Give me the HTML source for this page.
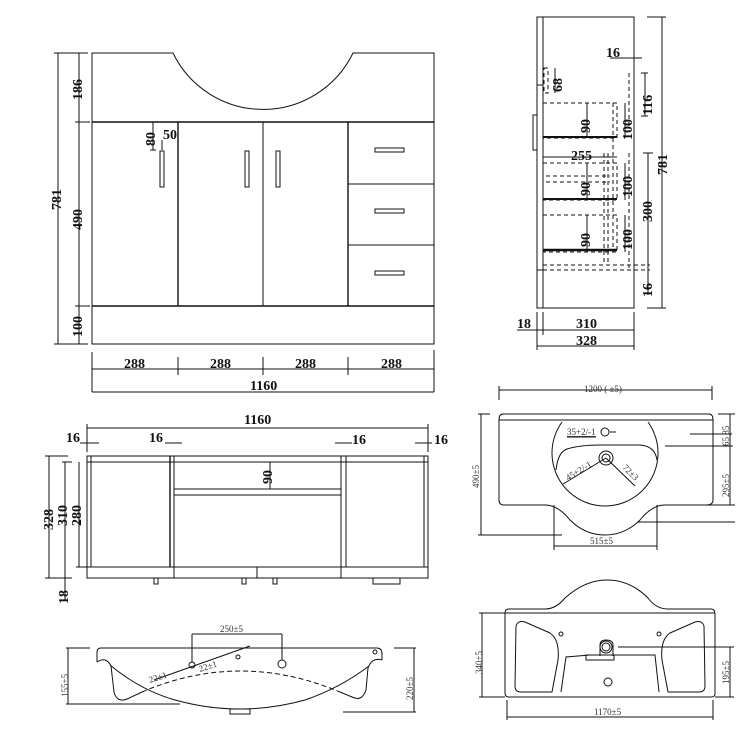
<!DOCTYPE html>
<html><head><meta charset="utf-8"><style>
html,body{margin:0;padding:0;background:#fff;}
svg{display:block;}
text{font-family:"Liberation Serif",serif;fill:#111;}
.b{font-weight:bold;font-size:14px;}
.s{font-size:9px;fill:#333;}
</style></head><body>
<svg width="750" height="750" viewBox="0 0 750 750" xmlns="http://www.w3.org/2000/svg" fill="none" stroke="#111">
<!-- FRONT VIEW -->
<g stroke-width="1">
<path d="M92 53 H173 A100 100 0 0 0 353 53 H434 V344 H92 Z"/>
<line x1="92" y1="122" x2="434" y2="122" stroke-width="1.6"/>
<line x1="92" y1="306" x2="434" y2="306" stroke-width="1.6"/>
<line x1="178" y1="122" x2="178" y2="306" stroke-width="1.4"/>
<line x1="263" y1="122" x2="263" y2="306"/>
<line x1="348" y1="122" x2="348" y2="306" stroke-width="1.4"/>
<line x1="348" y1="184" x2="434" y2="184"/>
<line x1="348" y1="245" x2="434" y2="245"/>
<rect x="160" y="151" width="4" height="36"/>
<rect x="245" y="151" width="4" height="36"/>
<rect x="276" y="151" width="4" height="36"/>
<rect x="375" y="148" width="29" height="4"/>
<rect x="375" y="209" width="29" height="4"/>
<rect x="375" y="271" width="29" height="4"/>
<line x1="58" y1="53" x2="58" y2="344"/><line x1="54" y1="53" x2="88" y2="53"/><line x1="54" y1="344" x2="88" y2="344"/>
<line x1="79" y1="53" x2="79" y2="344"/><line x1="75" y1="122" x2="90" y2="122"/><line x1="75" y1="306" x2="90" y2="306"/>
<line x1="153" y1="122" x2="153" y2="150"/><line x1="150" y1="150" x2="156" y2="150"/>
<line x1="162" y1="140" x2="162" y2="150"/>
<line x1="92" y1="352" x2="92" y2="392"/><line x1="434" y1="350" x2="434" y2="392"/>
<line x1="92" y1="369" x2="434" y2="369"/>
<line x1="178" y1="357" x2="178" y2="375"/><line x1="263" y1="357" x2="263" y2="375"/><line x1="348" y1="357" x2="348" y2="375"/>
<line x1="92" y1="392" x2="434" y2="392"/>
</g>
<g stroke="none">
<text x="124" y="368" class="b">288</text><text x="210" y="368" class="b">288</text><text x="295" y="368" class="b">288</text><text x="381" y="368" class="b">288</text>
<text x="250" y="390" class="b">1160</text>
<text class="b" transform="translate(82,100) rotate(-90)">186</text>
<text class="b" transform="translate(82,230) rotate(-90)">490</text>
<text class="b" transform="translate(82,337) rotate(-90)">100</text>
<text class="b" transform="translate(61,210) rotate(-90)">781</text>
<text class="b" transform="translate(155,146) rotate(-90)">80</text>
<text x="163" y="139" class="b">50</text>
</g>

<!-- SIDE VIEW -->
<g stroke-width="1">
<rect x="537" y="17" width="97" height="291"/>
<line x1="543" y1="17" x2="543" y2="308"/>
<rect x="533" y="115" width="4" height="35"/>
<line x1="537" y1="85" x2="543" y2="85"/><line x1="537" y1="270" x2="543" y2="270"/>
<g stroke-dasharray="4,3">
<rect x="544" y="68" width="4" height="25"/>
<rect x="543" y="103" width="74" height="35"/>
<rect x="543" y="163" width="74" height="37"/>
<rect x="543" y="215" width="74" height="37"/>
<line x1="546" y1="176" x2="610" y2="176"/><line x1="546" y1="182" x2="610" y2="182"/>
<line x1="604" y1="153" x2="604" y2="265"/><line x1="608" y1="153" x2="608" y2="265"/>
<line x1="613" y1="103" x2="613" y2="252"/>
<line x1="629" y1="73" x2="629" y2="128"/><line x1="629" y1="153" x2="629" y2="268"/>
<line x1="543" y1="265" x2="650" y2="265"/><line x1="543" y1="270" x2="650" y2="270"/>
</g>
<line x1="543" y1="137" x2="617" y2="137" stroke-width="2"/>
<line x1="543" y1="199" x2="617" y2="199" stroke-width="2"/>
<line x1="543" y1="250" x2="617" y2="250" stroke-width="2.5"/>
<line x1="587" y1="103" x2="587" y2="138"/><line x1="587" y1="163" x2="587" y2="200"/><line x1="587" y1="215" x2="587" y2="252"/>
<line x1="625" y1="103" x2="625" y2="138"/><line x1="625" y1="163" x2="625" y2="200"/><line x1="625" y1="215" x2="625" y2="252"/>
<line x1="543" y1="157" x2="617" y2="157"/>
<line x1="555" y1="68" x2="555" y2="93"/>
<line x1="645" y1="73" x2="645" y2="116"/><line x1="641" y1="73" x2="648" y2="73"/><line x1="641" y1="116" x2="648" y2="116"/>
<line x1="648" y1="153" x2="648" y2="295"/><line x1="643" y1="153" x2="653" y2="153"/>
<line x1="610" y1="58" x2="642" y2="58"/>
<line x1="662" y1="17" x2="662" y2="308"/><line x1="647" y1="17" x2="666" y2="17"/><line x1="647" y1="308" x2="666" y2="308"/>
<line x1="537" y1="312" x2="537" y2="350"/><line x1="543" y1="312" x2="543" y2="335"/><line x1="634" y1="312" x2="634" y2="350"/>
<line x1="517" y1="330" x2="634" y2="330"/><line x1="537" y1="346" x2="634" y2="346"/>
</g>
<g stroke="none">
<text x="606" y="57" class="b">16</text>
<text class="b" transform="translate(562,92) rotate(-90)">68</text>
<text class="b" transform="translate(590,133) rotate(-90)">90</text>
<text class="b" transform="translate(590,196) rotate(-90)">90</text>
<text class="b" transform="translate(590,247) rotate(-90)">90</text>
<text class="b" transform="translate(632,140) rotate(-90)">100</text>
<text class="b" transform="translate(632,197) rotate(-90)">100</text>
<text class="b" transform="translate(632,250) rotate(-90)">100</text>
<text class="b" transform="translate(652,115) rotate(-90)">116</text>
<text class="b" transform="translate(652,222) rotate(-90)">300</text>
<text class="b" transform="translate(652,297) rotate(-90)">16</text>
<text class="b" transform="translate(667,175) rotate(-90)">781</text>
<text x="571" y="160" class="b">255</text>
<text x="517" y="328" class="b">18</text>
<text x="576" y="328" class="b">310</text>
<text x="576" y="345" class="b">328</text>
</g>

<!-- PLAN VIEW -->
<g stroke-width="1">
<rect x="87" y="456" width="341" height="122"/>
<line x1="91" y1="456" x2="91" y2="567"/><line x1="424" y1="456" x2="424" y2="567"/>
<line x1="87" y1="462" x2="428" y2="462"/>
<line x1="87" y1="567" x2="428" y2="567"/>
<line x1="170" y1="456" x2="170" y2="567" stroke-width="1.4"/><line x1="174" y1="456" x2="174" y2="578"/>
<line x1="341" y1="456" x2="341" y2="578"/><line x1="346" y1="456" x2="346" y2="567"/>
<line x1="257" y1="567" x2="257" y2="578"/>
<line x1="174" y1="489" x2="341" y2="489"/><line x1="174" y1="495" x2="341" y2="495"/>
<line x1="270" y1="462" x2="270" y2="489"/>
<rect x="154" y="578" width="4" height="6"/><rect x="242" y="578" width="4" height="6"/><rect x="273" y="578" width="4" height="6"/>
<rect x="373" y="578" width="27" height="6"/>
<line x1="87" y1="428" x2="428" y2="428"/><line x1="87" y1="424" x2="87" y2="452"/><line x1="428" y1="424" x2="428" y2="452"/>
<line x1="80" y1="443" x2="99" y2="443"/><line x1="165" y1="443" x2="182" y2="443"/><line x1="335" y1="443" x2="352" y2="443"/><line x1="415" y1="443" x2="432" y2="443"/>
<line x1="49" y1="456" x2="49" y2="578"/><line x1="45" y1="456" x2="68" y2="456"/><line x1="45" y1="578" x2="72" y2="578"/>
<line x1="65" y1="462" x2="65" y2="578"/><line x1="62" y1="462" x2="72" y2="462"/>
<line x1="79" y1="462" x2="79" y2="567"/><line x1="76" y1="567" x2="90" y2="567"/>
<line x1="65" y1="562" x2="65" y2="600"/>
</g>
<g stroke="none">
<text x="244" y="424" class="b">1160</text>
<text x="66" y="442" class="b">16</text><text x="149" y="442" class="b">16</text><text x="352" y="444" class="b">16</text><text x="434" y="444" class="b">16</text>
<text class="b" transform="translate(272,484) rotate(-90)">90</text>
<text class="b" transform="translate(53,530) rotate(-90)">328</text>
<text class="b" transform="translate(67,526) rotate(-90)">310</text>
<text class="b" transform="translate(81,526) rotate(-90)">280</text>
<text class="b" transform="translate(68,604) rotate(-90)">18</text>
</g>

<!-- BASIN SIDE -->
<g stroke-width="1">
<path d="M97 662 V652 Q97 648 101 648 H377 Q382 648 382 654 V660"/>
<path d="M97 662 Q106 656 111 666 L114 692 Q117 703 127 699 L142 692"/>
<path d="M142 692 Q240 650 340 692" stroke-dasharray="5,3"/>
<path d="M382 660 Q372 657 368 668 L366 690 Q362 702 352 697 L340 692"/>
<path d="M110 665 Q140 690 175 700 Q240 718 305 700 Q340 688 369 666"/>
<rect x="230" y="709" width="20" height="5"/>
<line x1="154" y1="680" x2="250" y2="646"/>
<circle cx="192" cy="665" r="3"/><circle cx="238" cy="657" r="2"/><circle cx="282" cy="664" r="4"/><circle cx="375" cy="652" r="2"/>
<line x1="192" y1="662" x2="192" y2="634"/><line x1="192" y1="634" x2="282" y2="634"/><line x1="282" y1="634" x2="282" y2="660"/>
<line x1="66" y1="648" x2="90" y2="648"/><line x1="66" y1="704" x2="180" y2="704"/>
<line x1="394" y1="648" x2="416" y2="648"/><line x1="343" y1="712" x2="416" y2="712"/>
<line x1="68" y1="648" x2="68" y2="704"/><line x1="414" y1="648" x2="414" y2="712"/>
</g>
<g stroke="none">
<text x="220" y="632" class="s" font-size="11">250±5</text>
<text x="150" y="683" class="s" font-size="11" transform="rotate(-18 150 683)">22±1</text>
<text x="200" y="672" class="s" font-size="11" transform="rotate(-18 200 672)">22±1</text>
<text class="s" font-size="11" transform="translate(68,697) rotate(-90)">155±5</text>
<text class="s" font-size="11" transform="translate(413,700) rotate(-90)">220±5</text>
</g>

<!-- BASIN TOP -->
<g stroke-width="1">
<line x1="499" y1="390" x2="712" y2="390"/><line x1="499" y1="386" x2="499" y2="400"/><line x1="712" y1="386" x2="712" y2="400"/>
<path d="M503 414 H709 Q713 414 713 420 V500 Q713 505 706 505 H665 Q652 505 640 520 Q625 535 605 535 Q585 535 570 520 Q558 505 545 505 H504 Q499 505 499 500 V420 Q499 414 503 414 Z"/>
<line x1="499" y1="420" x2="713" y2="420"/>
<path d="M562 422 A53 53 0 1 0 648 422"/>
<path d="M567 449 Q580 445 600 445 H640 Q655 446 657 460 M556 470 Q558 452 567 449"/>
<circle cx="605" cy="432" r="4"/>
<circle cx="606" cy="458" r="7"/><circle cx="606" cy="458" r="4"/>
<line x1="563" y1="484" x2="606" y2="458"/><line x1="606" y1="458" x2="635" y2="486"/>
<line x1="567" y1="437" x2="596" y2="437"/><line x1="610" y1="432" x2="616" y2="432"/>
<line x1="690" y1="434" x2="732" y2="434"/><line x1="665" y1="446" x2="733" y2="446"/>
<line x1="730" y1="414" x2="730" y2="505"/><line x1="718" y1="414" x2="735" y2="414"/><line x1="665" y1="505" x2="735" y2="505"/>
<line x1="481" y1="414" x2="481" y2="535"/><line x1="478" y1="414" x2="490" y2="414"/><line x1="478" y1="535" x2="562" y2="535"/>
<line x1="554" y1="505" x2="554" y2="550"/><line x1="657" y1="505" x2="657" y2="550"/><line x1="554" y1="546" x2="657" y2="546"/>
<line x1="638" y1="522" x2="735" y2="522"/>
</g>
<g stroke="none">
<text x="584" y="392" class="s">1200 ( ±5)</text>
<text x="567" y="435" class="s" text-decoration="underline">35+2/-1</text>
<text class="s" transform="translate(568,481) rotate(-32)">45+2/-1</text>
<text class="s" transform="translate(622,468) rotate(45)">72±3</text>
<text x="590" y="544" class="s">515±5</text>
<text class="s" transform="translate(479,488) rotate(-90)">490±5</text>
<text class="s" transform="translate(729,497) rotate(-90)">295±5</text>
<text class="s" transform="translate(729,446) rotate(-90)">65 85</text>
</g>

<!-- BASIN BOTTOM -->
<g stroke-width="1">
<path d="M509 609 H545 Q556 609 565 598 Q585 580 607 580 Q630 580 648 598 Q656 609 668 609 H711 Q715 609 715 614 V694 Q715 697 711 697 H509 Q505 697 505 693 V613 Q505 609 509 609 Z"/>
<line x1="505" y1="613" x2="715" y2="613"/>
<path d="M516 626 Q518 620 525 622 L550 633 Q560 640 558 660 L552 692 H521 Q515 692 515 686 Z"/>
<path d="M704 626 Q702 620 695 622 L670 633 Q660 640 662 660 L668 692 H699 Q705 692 705 686 Z"/>
<path d="M561 692 L566 657 L590 655 H655 L659 692"/>
<rect x="586" y="655" width="28" height="5"/>
<path d="M600 656 V645 Q600 640 606 640 Q613 640 613 645 V656"/>
<circle cx="606" cy="647" r="6"/><circle cx="606" cy="647" r="4"/>
<circle cx="608" cy="682" r="4"/><circle cx="561" cy="634" r="2"/><circle cx="659" cy="634" r="2"/>
<line x1="618" y1="647" x2="734" y2="647"/><line x1="730" y1="647" x2="730" y2="697"/><line x1="715" y1="697" x2="734" y2="697"/>
<line x1="482" y1="613" x2="482" y2="697"/><line x1="479" y1="613" x2="505" y2="613"/><line x1="479" y1="697" x2="505" y2="697"/>
<line x1="507" y1="700" x2="507" y2="720"/><line x1="713" y1="700" x2="713" y2="720"/><line x1="507" y1="717" x2="713" y2="717"/>
</g>
<g stroke="none">
<text x="594" y="715" class="s">1170±5</text>
<text class="s" transform="translate(482,674) rotate(-90)">340±5</text>
<text class="s" transform="translate(729,684) rotate(-90)">195±5</text>
</g>
</svg>
</body></html>
